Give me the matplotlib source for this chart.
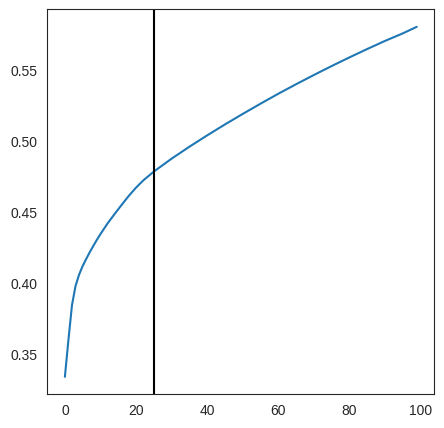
import matplotlib
matplotlib.use('Agg')
import matplotlib.pyplot as plt
import seaborn as sns

# values
steps = [0, 1, 2, 3, 4, 5, 6, 7, 8, 9, 10, 12, 14, 16, 18, 20, 22, 25, 30, 35,
         40, 45, 50, 55, 60, 65, 70, 75, 80, 85, 90, 95, 99]
score = [0.334, 0.360, 0.3845, 0.398, 0.406, 0.412, 0.417, 0.4218, 0.4262, 0.4305,
         0.4345, 0.442, 0.4487, 0.4552, 0.4615, 0.4672, 0.4722, 0.4785, 0.4876, 0.4960,
         0.5040, 0.5117, 0.5191, 0.5263, 0.5333, 0.5400, 0.5465, 0.5528, 0.5589, 0.5648,
         0.5705, 0.5758, 0.5805]
cutoff = 25

sns.set_style('white')
plt.rcParams['font.family'] = ['Liberation Sans', 'DejaVu Sans']

fig = plt.figure(figsize=(4.44, 4.28), dpi=100)
ax = fig.add_axes([0.1065, 0.0787, 0.8717, 0.8995])

ax.plot(steps, score, color='#1f77b4', linewidth=1.5)
ax.axvline(cutoff, color='black', linewidth=1.5)

ax.set_xticks([0, 20, 40, 60, 80, 100])
ax.set_yticks([0.35, 0.40, 0.45, 0.50, 0.55])
ax.tick_params(labelsize=10)

fig.savefig('out.png', dpi=100)
